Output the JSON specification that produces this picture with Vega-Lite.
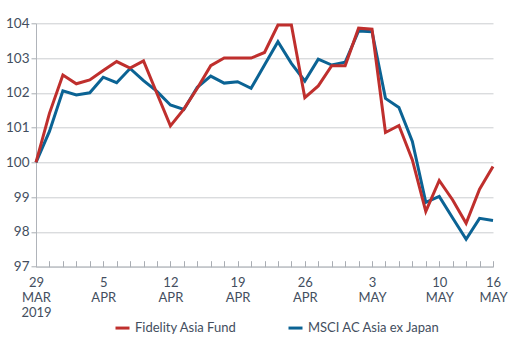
{
  "$schema": "https://vega.github.io/schema/vega-lite/v6.json",
  "autosize": {"type": "none"},
  "width": 457,
  "height": 243.4,
  "padding": {"left": 36, "top": 23.3, "right": 22, "bottom": 83.3},
  "background": "#ffffff",
  "config": {
    "view": {"stroke": null},
    "font": "Lato",
    "axis": {"labelColor": "#434e5e", "labelFont": "Lato", "domainColor": "#b0b4ba", "tickColor": "#a9adb3"},
    "legend": {"labelColor": "#434e5e", "labelFont": "Lato"}
  },
  "data": {
    "values": [
      {"d":"2019-03-29","s":"Fidelity Asia Fund","v":100},
      {"d":"2019-04-01","s":"Fidelity Asia Fund","v":101.41},
      {"d":"2019-04-02","s":"Fidelity Asia Fund","v":102.51},
      {"d":"2019-04-03","s":"Fidelity Asia Fund","v":102.26},
      {"d":"2019-04-04","s":"Fidelity Asia Fund","v":102.37},
      {"d":"2019-04-05","s":"Fidelity Asia Fund","v":102.64},
      {"d":"2019-04-08","s":"Fidelity Asia Fund","v":102.9},
      {"d":"2019-04-09","s":"Fidelity Asia Fund","v":102.71},
      {"d":"2019-04-10","s":"Fidelity Asia Fund","v":102.92},
      {"d":"2019-04-11","s":"Fidelity Asia Fund","v":101.98},
      {"d":"2019-04-12","s":"Fidelity Asia Fund","v":101.05},
      {"d":"2019-04-15","s":"Fidelity Asia Fund","v":101.53},
      {"d":"2019-04-16","s":"Fidelity Asia Fund","v":102.13},
      {"d":"2019-04-17","s":"Fidelity Asia Fund","v":102.78},
      {"d":"2019-04-18","s":"Fidelity Asia Fund","v":103.0},
      {"d":"2019-04-19","s":"Fidelity Asia Fund","v":103.0},
      {"d":"2019-04-22","s":"Fidelity Asia Fund","v":103.0},
      {"d":"2019-04-23","s":"Fidelity Asia Fund","v":103.16},
      {"d":"2019-04-24","s":"Fidelity Asia Fund","v":103.95},
      {"d":"2019-04-25","s":"Fidelity Asia Fund","v":103.95},
      {"d":"2019-04-26","s":"Fidelity Asia Fund","v":101.86},
      {"d":"2019-04-29","s":"Fidelity Asia Fund","v":102.2},
      {"d":"2019-04-30","s":"Fidelity Asia Fund","v":102.78},
      {"d":"2019-05-01","s":"Fidelity Asia Fund","v":102.78},
      {"d":"2019-05-02","s":"Fidelity Asia Fund","v":103.86},
      {"d":"2019-05-03","s":"Fidelity Asia Fund","v":103.83},
      {"d":"2019-05-06","s":"Fidelity Asia Fund","v":100.86},
      {"d":"2019-05-07","s":"Fidelity Asia Fund","v":101.06},
      {"d":"2019-05-08","s":"Fidelity Asia Fund","v":100.07},
      {"d":"2019-05-09","s":"Fidelity Asia Fund","v":98.59},
      {"d":"2019-05-10","s":"Fidelity Asia Fund","v":99.48},
      {"d":"2019-05-13","s":"Fidelity Asia Fund","v":98.92},
      {"d":"2019-05-14","s":"Fidelity Asia Fund","v":98.25},
      {"d":"2019-05-15","s":"Fidelity Asia Fund","v":99.23},
      {"d":"2019-05-16","s":"Fidelity Asia Fund","v":99.88},
      {"d":"2019-03-29","s":"MSCI AC Asia ex Japan","v":100},
      {"d":"2019-04-01","s":"MSCI AC Asia ex Japan","v":100.89},
      {"d":"2019-04-02","s":"MSCI AC Asia ex Japan","v":102.06},
      {"d":"2019-04-03","s":"MSCI AC Asia ex Japan","v":101.94},
      {"d":"2019-04-04","s":"MSCI AC Asia ex Japan","v":102.0},
      {"d":"2019-04-05","s":"MSCI AC Asia ex Japan","v":102.45},
      {"d":"2019-04-08","s":"MSCI AC Asia ex Japan","v":102.29},
      {"d":"2019-04-09","s":"MSCI AC Asia ex Japan","v":102.7},
      {"d":"2019-04-10","s":"MSCI AC Asia ex Japan","v":102.35},
      {"d":"2019-04-11","s":"MSCI AC Asia ex Japan","v":102.04},
      {"d":"2019-04-12","s":"MSCI AC Asia ex Japan","v":101.65},
      {"d":"2019-04-15","s":"MSCI AC Asia ex Japan","v":101.52},
      {"d":"2019-04-16","s":"MSCI AC Asia ex Japan","v":102.16},
      {"d":"2019-04-17","s":"MSCI AC Asia ex Japan","v":102.48},
      {"d":"2019-04-18","s":"MSCI AC Asia ex Japan","v":102.28},
      {"d":"2019-04-19","s":"MSCI AC Asia ex Japan","v":102.32},
      {"d":"2019-04-22","s":"MSCI AC Asia ex Japan","v":102.13},
      {"d":"2019-04-23","s":"MSCI AC Asia ex Japan","v":102.8},
      {"d":"2019-04-24","s":"MSCI AC Asia ex Japan","v":103.47},
      {"d":"2019-04-25","s":"MSCI AC Asia ex Japan","v":102.85},
      {"d":"2019-04-26","s":"MSCI AC Asia ex Japan","v":102.34},
      {"d":"2019-04-29","s":"MSCI AC Asia ex Japan","v":102.97},
      {"d":"2019-04-30","s":"MSCI AC Asia ex Japan","v":102.8},
      {"d":"2019-05-01","s":"MSCI AC Asia ex Japan","v":102.88},
      {"d":"2019-05-02","s":"MSCI AC Asia ex Japan","v":103.78},
      {"d":"2019-05-03","s":"MSCI AC Asia ex Japan","v":103.76},
      {"d":"2019-05-06","s":"MSCI AC Asia ex Japan","v":101.84},
      {"d":"2019-05-07","s":"MSCI AC Asia ex Japan","v":101.58},
      {"d":"2019-05-08","s":"MSCI AC Asia ex Japan","v":100.6},
      {"d":"2019-05-09","s":"MSCI AC Asia ex Japan","v":98.85},
      {"d":"2019-05-10","s":"MSCI AC Asia ex Japan","v":99.02},
      {"d":"2019-05-13","s":"MSCI AC Asia ex Japan","v":98.4},
      {"d":"2019-05-14","s":"MSCI AC Asia ex Japan","v":97.79},
      {"d":"2019-05-15","s":"MSCI AC Asia ex Japan","v":98.39},
      {"d":"2019-05-16","s":"MSCI AC Asia ex Japan","v":98.33}
    ]
  },
  "encoding": {
    "x": {
      "field": "d", "type": "ordinal",
      "scale": {"type": "point", "padding": 0},
      "axis": {
        "title": null,
        "labelAngle": 0,
        "labelFontSize": 13,
        "labelLineHeight": 15,
        "labelPadding": 16,
        "labelOverlap": false,
        "labelBound": false,
        "tickSize": -6,
        "tickWidth": 1,
        "labelExpr": "({'2019-03-29':['29','MAR','2019'],'2019-04-05':['5','APR'],'2019-04-12':['12','APR'],'2019-04-19':['19','APR'],'2019-04-26':['26','APR'],'2019-05-03':['3','MAY'],'2019-05-10':['10','MAY'],'2019-05-16':['16','MAY']})[datum.value] || ''"
      }
    },
    "y": {
      "field": "v", "type": "quantitative",
      "scale": {"domain": [97, 104], "zero": false, "nice": false},
      "axis": {
        "title": null,
        "values": [97, 98, 99, 100, 101, 102, 103, 104],
        "labelFontSize": 13.5,
        "labelPadding": 2,
        "tickSize": 5,
        "gridColor": "#cbcdd0",
        "gridWidth": 1
      }
    },
    "color": {
      "field": "s", "type": "nominal",
      "scale": {"domain": ["Fidelity Asia Fund", "MSCI AC Asia ex Japan"], "range": ["#bf2f2d", "#0b6394"]},
      "legend": {
        "title": null,
        "orient": "none",
        "direction": "horizontal",
        "legendX": 78,
        "legendY": 296,
        "symbolType": "stroke",
        "symbolSize": 196,
        "symbolStrokeWidth": 3,
        "labelFontSize": 13,
        "labelOffset": 4,
        "columnPadding": 45
      }
    }
  },
  "layer": [
    {"transform": [{"filter": "datum.s === 'MSCI AC Asia ex Japan'"}], "mark": {"type": "line", "strokeWidth": 3}},
    {"transform": [{"filter": "datum.s === 'Fidelity Asia Fund'"}], "mark": {"type": "line", "strokeWidth": 3}}
  ]
}
